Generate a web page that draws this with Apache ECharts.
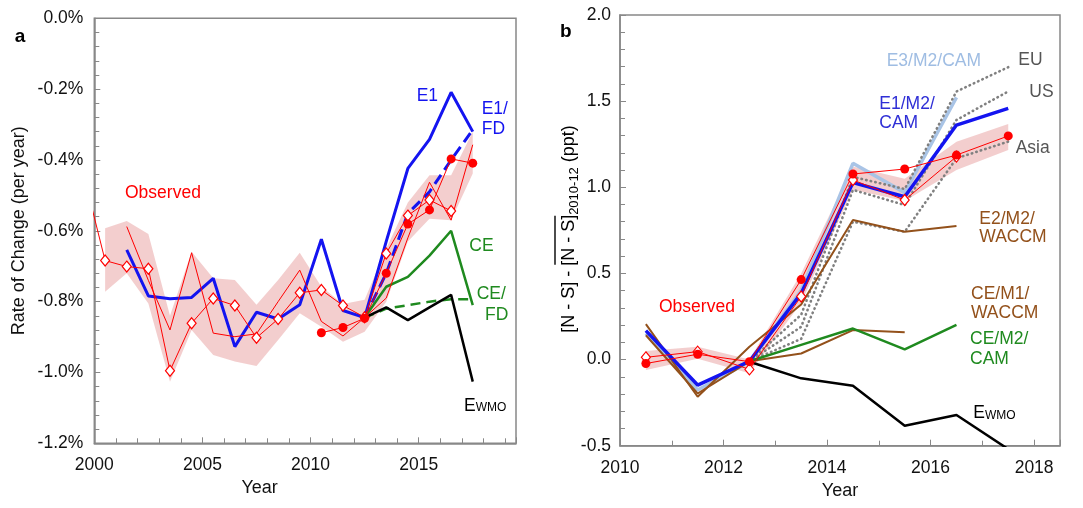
<!DOCTYPE html>
<html><head><meta charset="utf-8">
<script src="https://cdn.jsdelivr.net/npm/echarts@6/dist/echarts.min.js"></script>
<style>html,body{margin:0;padding:0;background:#fff}#c{width:1083px;height:508px}</style>
</head><body><div id="c"></div>
<script>
// ---------- Panel a data (rate of change, % per year) ----------
const yearsA = [1999.5,2000.5,2001.5,2002.5,2003.5,2004.5,2005.5,2006.5,2007.5,2008.5,2009.5,2010.5,2011.5,2012.5,2013.5,2014.5,2015.5,2016.5,2017.5];
const obsDiamondA = [-0.44,-0.684,-0.701,-0.707,-0.995,-0.861,-0.791,-0.811,-0.902,-0.849,-0.775,-0.767,-0.811,-0.844,-0.664,-0.557,-0.513,-0.544,null];
const obsCircleA  = [null,null,null,null,null,null,null,null,null,null,null,-0.888,-0.873,-0.847,-0.72,-0.581,-0.541,-0.397,-0.409];
const obsThinA    = [null,null,-0.588,-0.74,-0.88,-0.662,-0.889,-0.899,-0.891,-0.80,-0.711,-0.856,-0.897,-0.845,-0.79,-0.62,-0.463,-0.57,-0.357];
const bandUpperA  = [null,-0.593,-0.572,-0.609,-0.84,-0.659,-0.734,-0.739,-0.809,-0.739,-0.662,-0.758,-0.807,-0.795,-0.65,-0.52,-0.443,-0.443,-0.32];
const bandLowerA  = [null,-0.772,-0.72,-0.805,-1.026,-0.88,-0.951,-0.969,-0.982,-0.908,-0.833,-0.871,-0.913,-0.885,-0.80,-0.63,-0.566,-0.57,-0.438];
const e1A   = [null,null,-0.654,-0.784,-0.792,-0.788,-0.734,-0.927,-0.830,-0.849,-0.809,-0.624,-0.825,-0.845,-0.63,-0.424,-0.342,-0.209,-0.32];
const e1fdA = [null,null,null,null,null,null,null,null,null,null,null,null,null,-0.845,-0.72,-0.551,-0.49,-0.40,-0.315];
const ceA   = [null,null,null,null,null,null,null,null,null,null,null,null,null,-0.845,-0.758,-0.73,-0.670,-0.600,-0.81];
const cefdA = [null,null,null,null,null,null,null,null,null,null,null,null,null,-0.845,-0.82,-0.81,-0.80,-0.793,-0.793];
const ewmoA = [null,null,null,null,null,null,null,null,null,null,null,null,null,-0.845,-0.816,-0.852,-0.816,-0.781,-1.026];

// ---------- Panel b data ([N-S] anomaly, ppt) ----------
const yearsB = [2010.5,2011.5,2012.5,2013.5,2014.5,2015.5,2016.5,2017.5];
const obsDiamondB = [0.013,0.046,-0.057,0.366,1.042,0.926,1.178,null];
const obsCircleB  = [-0.023,0.031,-0.012,0.464,1.077,1.106,1.187,1.298];
const bandUpperB  = [0.05,0.075,0.0,0.50,1.12,1.05,1.265,1.367];
const bandLowerB  = [-0.06,0.005,-0.08,0.33,0.985,0.92,1.10,1.216];
const e1m2B   = [0.168,-0.148,-0.01,0.384,1.027,0.945,1.361,1.458];
const e3m2B   = [0.152,-0.177,-0.013,0.40,1.139,0.969,1.522,null];
const e2m2wB  = [0.206,-0.216,0.074,0.32,0.81,0.742,0.775,null];
const cem1wB  = [0.141,-0.197,-0.01,0.035,0.171,0.158,null,null];
const cem2cB  = [null,null,-0.01,0.085,0.18,0.059,0.201,null];
const ewmoB   = [null,null,-0.013,-0.109,-0.152,-0.384,-0.322,-0.52];
const euB     = [null,null,-0.01,0.26,1.06,0.99,1.556,1.697];
const usB     = [null,null,-0.01,0.19,0.985,0.897,1.391,1.556];
const asiaB   = [null,null,-0.01,0.12,0.80,0.742,1.168,1.265];

// ---------- helpers ----------
const FONT = '"Liberation Sans", Arial, Helvetica, sans-serif';
const pts = (xs, ys) => xs.map((x, i) => [x, ys[i]]);
const RED = '#ff0000', BLUE = '#1414f0', GREEN = '#1f8a1f', BROWN = '#93511b', LBLUE = '#a9c4e6', GRAY = '#808080';
const BAND = 'rgba(214,92,92,0.3)';
const LS = 17.5; // label font size

function line(ax, xs, ys, color, width, type, extra) {
  return Object.assign({
    type: 'line', xAxisIndex: ax, yAxisIndex: ax, data: pts(xs, ys),
    symbol: 'none', silent: true, animation: false, emphasis: { disabled: true },
    lineStyle: { color: color, width: width, type: type || 'solid' }, itemStyle: { color: color }
  }, extra || {});
}
// uncertainty band as one polygon through the axes' own coordinate mapping
function bandSeries(ax, xs, lower, upper) {
  const idx = xs.map((x, i) => i).filter(i => upper[i] != null && lower[i] != null);
  return {
    type: 'custom', xAxisIndex: ax, yAxisIndex: ax, silent: true, animation: false,
    data: [[xs[idx[0]], upper[idx[0]]]], encode: { x: 0, y: 1 },
    renderItem: function (params, api) {
      const top = idx.map(i => api.coord([xs[i], upper[i]]));
      const bot = idx.slice().reverse().map(i => api.coord([xs[i], lower[i]]));
      return { type: 'polygon', shape: { points: top.concat(bot) }, style: { fill: BAND, stroke: null } };
    }
  };
}
function diamonds(ax, xs, ys) {
  return line(ax, xs, ys, RED, 1, 'solid', { symbol: 'diamond', symbolSize: [9, 11], showSymbol: true,
    itemStyle: { color: '#ffffff', borderColor: RED, borderWidth: 1.2 } });
}
function circles(ax, xs, ys) {
  return line(ax, xs, ys, RED, 1, 'solid', { symbol: 'circle', symbolSize: 9, showSymbol: true,
    itemStyle: { color: RED, borderWidth: 0 } });
}
function dots(ax, xs, ys) {
  return line(ax, xs, ys, GRAY, 2.6, 'solid', { lineStyle: { color: GRAY, width: 2.6, type: [0.5, 4.2], cap: 'round' } });
}

const axisLineS = { show: true, onZero: false, lineStyle: { color: '#888', width: 1.5 } };
const axisTickS = { show: true, inside: true, length: 6, lineStyle: { color: '#888', width: 1 } };
const minorS = n => ({ show: true, splitNumber: n, length: 5, lineStyle: { color: '#888', width: 1 } });
const tickFont = { color: '#111', fontSize: 17.5, fontFamily: FONT };
const fmt1 = v => (Math.abs(v) < 1e-9 ? '0.0' : v.toFixed(1));

// ---------- labels ----------
function txt(text, x, y, color, size, extra) {
  return { type: 'text', x: x, y: y, silent: true,
    style: Object.assign({ text: text, fill: color, font: (size || LS) + 'px ' + FONT, align: 'left', verticalAlign: 'middle' }, extra || {}) };
}
function ewmo(x, y) {
  return { type: 'text', x: x, y: y, silent: true,
    style: { text: '{e|E}{s|WMO}', fill: '#000', align: 'left', verticalAlign: 'middle',
      rich: { e: { fontSize: LS, fontFamily: FONT, fill: '#000', verticalAlign: 'bottom' },
              s: { fontSize: 12, fontFamily: FONT, fill: '#000', verticalAlign: 'bottom', padding: [0, 0, 1, 0] } } } };
}

// y-title of panel b with overline and subscript
const cv = document.createElement('canvas').getContext('2d');
function tw(t, size) { cv.font = size + 'px "Liberation Sans"'; return cv.measureText(t).width; }
const p1 = '[N - S] - ', p2 = '[N - S]', p3 = '2010-12', p4 = ' (ppt)';
const w1 = tw(p1, 18), w2 = tw(p2, 18), w3 = tw(p3, 13), w4 = tw(p4, 18);
const W = w1 + w2 + w3 + w4, x0 = -W / 2;
const yTitleB = {
  type: 'group', x: 569, y: 229, rotation: Math.PI / 2, silent: true,
  children: [
    { type: 'text', x: x0, y: 0, style: { text: p1, fill: '#000', font: '18px ' + FONT, align: 'left', verticalAlign: 'middle' } },
    { type: 'text', x: x0 + w1, y: 0, style: { text: p2, fill: '#000', font: '18px ' + FONT, align: 'left', verticalAlign: 'middle' } },
    { type: 'line', shape: { x1: x0 + w1 + 1, y1: -14, x2: x0 + w1 + w2 - 1, y2: -14 }, style: { stroke: '#000', lineWidth: 1.4 } },
    { type: 'text', x: x0 + w1 + w2, y: 5, style: { text: p3, fill: '#000', font: '13px ' + FONT, align: 'left', verticalAlign: 'middle' } },
    { type: 'text', x: x0 + w1 + w2 + w3, y: 0, style: { text: p4, fill: '#000', font: '18px ' + FONT, align: 'left', verticalAlign: 'middle' } }
  ]
};

const option = {
  animation: false,
  backgroundColor: '#ffffff',
  textStyle: { fontFamily: FONT },
  grid: [
    { left: 94.3, top: 18.3, width: 421.7, height: 425, show: true, borderColor: '#888', borderWidth: 1.5, backgroundColor: 'transparent' },
    { left: 620, top: 15, width: 440, height: 430.7, show: true, borderColor: '#888', borderWidth: 1.5, backgroundColor: 'transparent' }
  ],
  xAxis: [
    { type: 'value', gridIndex: 0, min: 2000, max: 2019.5, interval: 5,
      axisLine: axisLineS, axisTick: axisTickS, minorTick: minorS(5), splitLine: { show: false },
      axisLabel: Object.assign({ margin: 13, formatter: v => (Math.abs(v % 5) < 1e-9 ? String(v) : '') }, tickFont),
      name: 'Year', nameLocation: 'middle', nameGap: 35,
      nameTextStyle: { color: '#111', fontSize: 18, fontFamily: FONT, padding: [0, 91, 0, 0] } },
    { type: 'value', gridIndex: 1, min: 2010, max: 2018.5, interval: 2,
      axisLine: axisLineS, axisTick: axisTickS, minorTick: minorS(2), splitLine: { show: false },
      axisLabel: Object.assign({ margin: 13, formatter: v => (Math.abs(v % 2) < 1e-9 ? String(v) : '') }, tickFont),
      name: 'Year', nameLocation: 'middle', nameGap: 35,
      nameTextStyle: { color: '#111', fontSize: 18, fontFamily: FONT } }
  ],
  yAxis: [
    { type: 'value', gridIndex: 0, min: -1.2, max: 0, interval: 0.2,
      axisLine: axisLineS, axisTick: axisTickS, minorTick: minorS(5), splitLine: { show: false },
      axisLabel: Object.assign({ margin: 11, formatter: v => fmt1(v) + '%' }, tickFont),
      name: 'Rate of Change (per year)', nameLocation: 'middle', nameRotate: 90, nameGap: 66,
      nameTextStyle: { color: '#111', fontSize: 18, fontFamily: FONT } },
    { type: 'value', gridIndex: 1, min: -0.5, max: 2.0, interval: 0.5,
      axisLine: axisLineS, axisTick: axisTickS, minorTick: minorS(5), splitLine: { show: false },
      axisLabel: Object.assign({ margin: 9, formatter: v => fmt1(v) }, tickFont) }
  ],
  series: [
    // panel a
    bandSeries(0, yearsA, bandLowerA, bandUpperA),
    line(0, yearsA, e1A, BLUE, 3),
    line(0, yearsA, e1fdA, BLUE, 3, [11, 6]),
    line(0, yearsA, ceA, GREEN, 2.5),
    line(0, yearsA, cefdA, GREEN, 2.5, [10, 6]),
    line(0, yearsA, ewmoA, '#000', 2.5),
    line(0, yearsA, obsThinA, RED, 1),
    diamonds(0, yearsA, obsDiamondA),
    circles(0, yearsA, obsCircleA),
    // panel b
    line(1, yearsB, e3m2B, LBLUE, 3.5),
    bandSeries(1, yearsB, bandLowerB, bandUpperB),
    dots(1, yearsB, euB),
    dots(1, yearsB, usB),
    dots(1, yearsB, asiaB),
    line(1, yearsB, e2m2wB, BROWN, 2),
    line(1, yearsB, cem1wB, BROWN, 2),
    line(1, yearsB, cem2cB, GREEN, 2.5),
    line(1, yearsB, ewmoB, '#000', 2.5),
    line(1, yearsB, e1m2B, BLUE, 3.5),
    diamonds(1, yearsB, obsDiamondB),
    circles(1, yearsB, obsCircleB)
  ],
  graphic: [
    txt('a', 20, 37, '#000', 19, { font: 'bold 19px ' + FONT, align: 'center' }),
    txt('Observed', 125, 193, RED),
    txt('E1', 416.7, 96, BLUE),
    txt('E1/', 481.7, 109.5, BLUE),
    txt('FD', 481.7, 129, BLUE),
    txt('CE', 469.3, 246.5, GREEN),
    txt('CE/', 476.7, 294, GREEN),
    txt('FD', 485, 315, GREEN),
    ewmo(464, 405.7),
    txt('b', 565.7, 32, '#000', 19, { font: 'bold 19px ' + FONT, align: 'center' }),
    txt('E3/M2/CAM', 886.7, 61, '#9fbde3'),
    txt('EU', 1018.3, 60, '#555555'),
    txt('US', 1029.3, 91.7, '#555555'),
    txt('E1/M2/', 879.3, 104.3, '#2f2fd6'),
    txt('CAM', 879.3, 122.7, '#2f2fd6'),
    txt('Asia', 1015.7, 147.7, '#555555'),
    txt('E2/M2/', 979.3, 218.7, BROWN),
    txt('WACCM', 979.3, 237.3, BROWN),
    txt('Observed', 659, 306.7, RED),
    txt('CE/M1/', 971, 294.3, BROWN),
    txt('WACCM', 971, 313.3, BROWN),
    txt('CE/M2/', 970, 339.3, GREEN),
    txt('CAM', 970, 359, GREEN),
    ewmo(973.3, 413.3),
    yTitleB
  ]
};

const chart = echarts.init(document.getElementById('c'), null, { renderer: 'canvas', width: 1083, height: 508 });
chart.setOption(option);
</script></body></html>
